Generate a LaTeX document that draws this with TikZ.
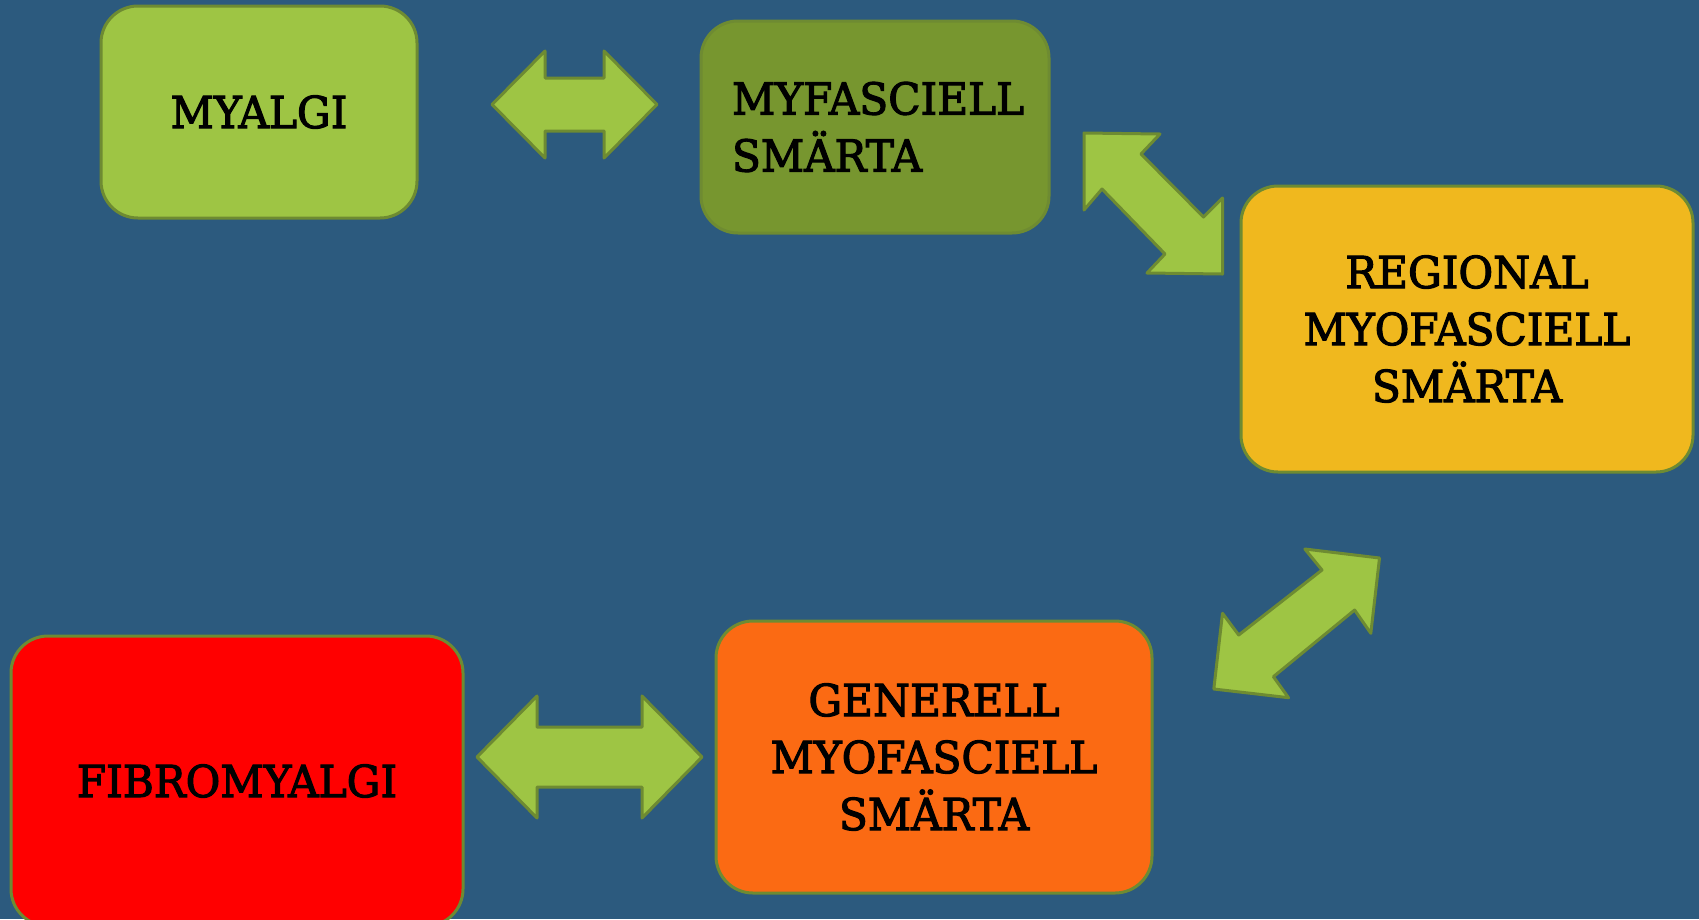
\documentclass[tikz,border=0pt]{standalone}
\usepackage{fontspec}
\setmainfont{DejaVu Serif}[FakeStretch=0.96, FakeBold=2.5]
\definecolor{bgcol}{HTML}{2C5A7E}
\definecolor{lightgreen}{HTML}{9EC544}
\definecolor{olivefill}{HTML}{77962F}
\definecolor{bordercol}{HTML}{6E8B32}
\definecolor{goldfill}{HTML}{F0B81E}
\definecolor{orangefill}{HTML}{FB6A13}
\definecolor{redfill}{HTML}{FF0000}
\begin{document}
\begin{tikzpicture}[x=1pt,y=-1pt,
  box/.style={draw=bordercol, line width=3pt, rounded corners=37pt, inner sep=0pt,
    font=\fontsize{44}{57}\selectfont, align=center, text=black},
  barrow/.style={fill=lightgreen, draw=bordercol, line width=3pt, line join=round}]
\fill[bgcol] (0,0) rectangle (1699,919);
\useasboundingbox (0,0) rectangle (1699,919);
\begin{scope}
\clip (0,0) rectangle (1699,919);
\node[box, fill=lightgreen, minimum width=316pt, minimum height=212pt] (myalgi) at (259,112) {MYALGI};
\node[box, fill=olivefill, minimum width=348pt, minimum height=212pt, text width=286pt, inner xsep=31pt, align=left] (myfasc) at (875,127) {MYFASCIELL\\SMÄRTA};
\node[box, fill=goldfill, minimum width=452pt, minimum height=286pt] (regional) at (1467,329) {REGIONAL\\MYOFASCIELL\\SMÄRTA};
\node[box, fill=orangefill, minimum width=436pt, minimum height=272pt] (generell) at (934,757) {GENERELL\\MYOFASCIELL\\SMÄRTA};
\node[box, fill=redfill, minimum width=452pt, minimum height=290pt] (fibro) at (237,781) {FIBROMYALGI};
\end{scope}
% arrow MYALGI <-> MYFASCIELL
\draw[barrow] (492,104.5) -- (545,51) -- (545,78) -- (604,78) -- (604,51) -- (657,104.5)
  -- (604,158) -- (604,131) -- (545,131) -- (545,158) -- cycle;
% arrow MYFASCIELL <-> REGIONAL
\draw[barrow] (1084,133) -- (1160,134) -- (1141,154) -- (1203.5,217) -- (1222.5,198)
  -- (1222.5,274) -- (1147,273) -- (1165,254) -- (1102,189) -- (1084,210) -- cycle;
% arrow REGIONAL <-> GENERELL
\draw[barrow] (1379.5,558) -- (1370.8,633.3) -- (1354.6,610) -- (1273.4,676.7) -- (1288.5,697.7)
  -- (1213.8,689) -- (1222.5,613.3) -- (1238.7,635) -- (1322,570) -- (1304.8,549) -- cycle;
% arrow GENERELL <-> FIBROMYALGI
\draw[barrow] (477,757) -- (537,696) -- (537,727) -- (642,727) -- (642,696) -- (702,757)
  -- (642,818) -- (642,787) -- (537,787) -- (537,818) -- cycle;
\end{tikzpicture}
\end{document}
